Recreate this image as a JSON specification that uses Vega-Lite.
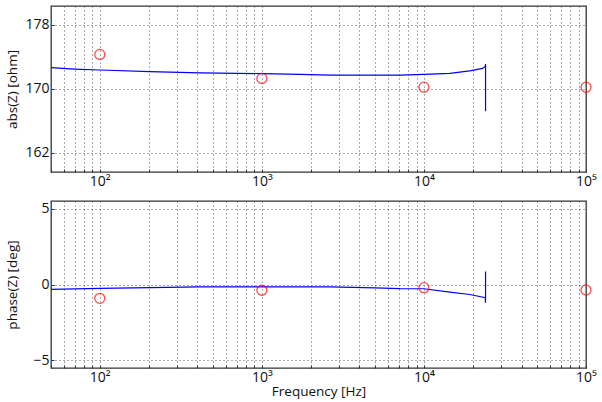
{
  "$schema": "https://vega.github.io/schema/vega-lite/v6.json",
  "padding": {"left": 5, "top": 5, "right": 0, "bottom": 4},
  "spacing": 29,
  "bounds": "flush",
  "config": {
    "view": {"stroke": "#333333", "strokeWidth": 1.3},
    "axis": {
      "labelFont": "Open Sans", "titleFont": "Open Sans",
      "labelFontSize": 14, "titleFontSize": 13.5, "titleFontWeight": "normal",
      "labelColor": "#111111", "titleColor": "#111111",
      "gridColor": "#555555", "gridDash": [1, 3], "gridOpacity": 1, "gridWidth": 1,
      "domain": false, "tickColor": "#333333", "tickSize": -3, "labelPadding": 5
    }
  },
  "datasets": {
    "absline": [
      {"f": 50, "v": 172.64, "o": 1},
      {"f": 70, "v": 172.47, "o": 2},
      {"f": 100, "v": 172.35, "o": 3},
      {"f": 204, "v": 172.15, "o": 4},
      {"f": 414, "v": 171.98, "o": 5},
      {"f": 1000, "v": 171.9, "o": 6},
      {"f": 1720, "v": 171.8, "o": 7},
      {"f": 2630, "v": 171.72, "o": 8},
      {"f": 4000, "v": 171.7, "o": 9},
      {"f": 7110, "v": 171.72, "o": 10},
      {"f": 10000, "v": 171.8, "o": 11},
      {"f": 14450, "v": 171.92, "o": 12},
      {"f": 19200, "v": 172.25, "o": 13},
      {"f": 23000, "v": 172.55, "o": 14},
      {"f": 23900, "v": 172.8, "o": 15},
      {"f": 24000, "v": 173.1, "o": 16},
      {"f": 24000, "v": 167.2, "o": 17}
    ],
    "abspts": [
      {"f": 100, "v": 174.3},
      {"f": 1000, "v": 171.3},
      {"f": 10000, "v": 170.2},
      {"f": 100000, "v": 170.2}
    ],
    "phline": [
      {"f": 50, "v": -0.32, "o": 1},
      {"f": 100, "v": -0.25, "o": 2},
      {"f": 204, "v": -0.2, "o": 3},
      {"f": 414, "v": -0.16, "o": 4},
      {"f": 1000, "v": -0.15, "o": 5},
      {"f": 2630, "v": -0.16, "o": 6},
      {"f": 5000, "v": -0.22, "o": 7},
      {"f": 7110, "v": -0.27, "o": 8},
      {"f": 10000, "v": -0.28, "o": 9},
      {"f": 14450, "v": -0.5, "o": 10},
      {"f": 19200, "v": -0.66, "o": 11},
      {"f": 23900, "v": -0.87, "o": 12},
      {"f": 24000, "v": -1.2, "o": 13},
      {"f": 24000, "v": 0.86, "o": 14}
    ],
    "phpts": [
      {"f": 100, "v": -0.91},
      {"f": 1000, "v": -0.38},
      {"f": 10000, "v": -0.21},
      {"f": 100000, "v": -0.36}
    ]
  },
  "vconcat": [
    {
      "width": 535,
      "height": 166,
      "layer": [
        {
          "data": {"name": "absline"},
          "mark": {"type": "line", "color": "#0000ff", "strokeWidth": 1.2},
          "encoding": {
            "x": {"field": "f", "type": "quantitative",
              "scale": {"type": "log", "domain": [50, 100000], "nice": false},
              "axis": {"title": null, "grid": true, "labelFlush": false, "labelOverlap": false,
                "values": [50,60,70,80,90,100,200,300,400,500,600,700,800,900,1000,2000,3000,4000,5000,6000,7000,8000,9000,10000,20000,30000,40000,50000,60000,70000,80000,90000,100000],
                "labelExpr": "datum.value == 100 ? '10²' : datum.value == 1000 ? '10³' : datum.value == 10000 ? '10⁴' : datum.value == 100000 ? '10⁵' : ''"}},
            "y": {"field": "v", "type": "quantitative",
              "scale": {"domain": [159.6, 180.35], "nice": false, "zero": false},
              "axis": {"title": "abs(Z) [ohm]", "values": [162, 170, 178], "grid": true, "titlePadding": 5}},
            "order": {"field": "o", "type": "quantitative"}
          }
        },
        {
          "data": {"name": "abspts"},
          "mark": {"type": "point", "shape": "circle", "filled": false, "color": "#ff0000", "size": 100, "strokeWidth": 1.3},
          "encoding": {
            "x": {"field": "f", "type": "quantitative"},
            "y": {"field": "v", "type": "quantitative"}
          }
        }
      ]
    },
    {
      "width": 535,
      "height": 167,
      "layer": [
        {
          "data": {"name": "phline"},
          "mark": {"type": "line", "color": "#0000ff", "strokeWidth": 1.2},
          "encoding": {
            "x": {"field": "f", "type": "quantitative",
              "scale": {"type": "log", "domain": [50, 100000], "nice": false},
              "axis": {"title": "Frequency [Hz]", "grid": true, "labelFlush": false, "labelOverlap": false,
                "titleY": 27, "titleBaseline": "alphabetic",
                "values": [50,60,70,80,90,100,200,300,400,500,600,700,800,900,1000,2000,3000,4000,5000,6000,7000,8000,9000,10000,20000,30000,40000,50000,60000,70000,80000,90000,100000],
                "labelExpr": "datum.value == 100 ? '10²' : datum.value == 1000 ? '10³' : datum.value == 10000 ? '10⁴' : datum.value == 100000 ? '10⁵' : ''"}},
            "y": {"field": "v", "type": "quantitative",
              "scale": {"domain": [-5.5, 5.5], "nice": false, "zero": false},
              "axis": {"title": "phase(Z) [deg]", "values": [-5, 0, 5], "grid": true, "titlePadding": 13}},
            "order": {"field": "o", "type": "quantitative"}
          }
        },
        {
          "data": {"name": "phpts"},
          "mark": {"type": "point", "shape": "circle", "filled": false, "color": "#ff0000", "size": 100, "strokeWidth": 1.3},
          "encoding": {
            "x": {"field": "f", "type": "quantitative"},
            "y": {"field": "v", "type": "quantitative"}
          }
        }
      ]
    }
  ]
}
